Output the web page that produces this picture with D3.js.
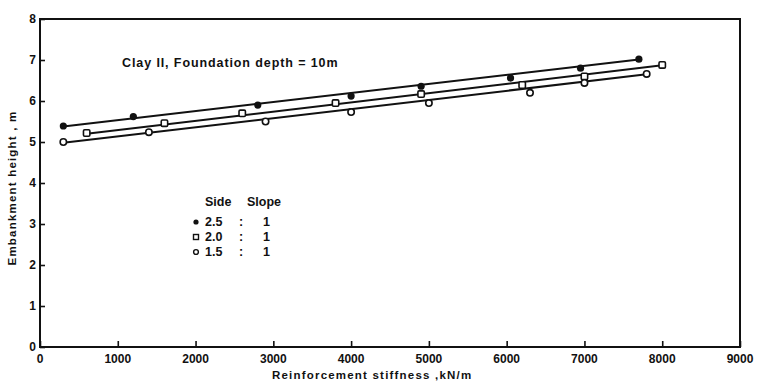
<!DOCTYPE html>
<html>
<head>
<meta charset="utf-8">
<script src="https://cdn.jsdelivr.net/npm/d3@7"></script>
<style>
  body { margin: 0; background: #fff; }
  svg { display: block; }
  text { font-family: "Liberation Sans", Arial, sans-serif; fill: #111; }
  .tick-label { font-size: 12px; font-weight: bold; }
  .axis-title { font-size: 11.5px; font-weight: bold; letter-spacing: 1.2px; }
  .note { font-size: 12.5px; font-weight: bold; }
  .title { letter-spacing: 0.9px; }
</style>
</head>
<body>
<svg id="chart" width="757" height="384"></svg>
<script>
  // values (x in kN/m, y in m)
  const xTicks = [0, 1000, 2000, 3000, 4000, 5000, 6000, 7000, 8000, 9000];
  const yTicks = [0, 1, 2, 3, 4, 5, 6, 7, 8];

  const slope25X = [300, 1200, 2800, 4000, 4900, 6050, 6950, 7700];
  const slope25Y = [5.39, 5.62, 5.9, 6.12, 6.36, 6.56, 6.8, 7.02];
  const slope20X = [600, 1600, 2600, 3800, 4900, 6200, 7000, 8000];
  const slope20Y = [5.22, 5.46, 5.7, 5.95, 6.17, 6.39, 6.6, 6.88];
  const slope15X = [300, 1400, 2900, 4000, 5000, 6300, 7000, 7800];
  const slope15Y = [5.0, 5.24, 5.5, 5.73, 5.95, 6.2, 6.44, 6.66];

  // fitted straight lines, start and end as drawn
  const fit25 = [[300, 5.38], [7700, 7.01]];
  const fit20 = [[600, 5.2], [8000, 6.87]];
  const fit15 = [[300, 4.98], [7800, 6.65]];

  const legendSides = ["2.5", "2.0", "1.5"];
  const legendSlopes = ["1", "1", "1"];

  const svg = d3.select("#chart");
  const x = d3.scaleLinear().domain([0, 9000]).range([40, 740]);
  const y = d3.scaleLinear().domain([0, 8]).range([347, 19]);

  // frame
  svg.append("rect")
    .attr("x", x(0)).attr("y", y(8))
    .attr("width", x(9000) - x(0)).attr("height", y(0) - y(8))
    .attr("fill", "none").attr("stroke", "#111").attr("stroke-width", 2);

  // inside ticks
  const xAxis = svg.append("g").attr("transform", `translate(0,${y(0)})`)
    .call(d3.axisTop(x).tickValues(xTicks).tickSize(6).tickFormat(""));
  const yAxis = svg.append("g").attr("transform", `translate(${x(0)},0)`)
    .call(d3.axisRight(y).tickValues(yTicks).tickSize(5).tickFormat(""));
  [xAxis, yAxis].forEach(g => {
    g.select(".domain").remove();
    g.selectAll("line").attr("stroke", "#111").attr("stroke-width", 1.6);
  });

  svg.selectAll(".xlab").data(xTicks).join("text")
    .attr("class", "tick-label")
    .attr("x", d => x(d)).attr("y", 363)
    .attr("text-anchor", "middle")
    .text(d => d);
  svg.selectAll(".ylab").data(yTicks).join("text")
    .attr("class", "tick-label")
    .attr("x", 36).attr("y", d => y(d) + 4)
    .attr("text-anchor", "end")
    .text(d => d);

  svg.append("text").attr("class", "axis-title")
    .attr("x", 272).attr("y", 379)
    .text("Reinforcement  stiffness ,kN/m");
  svg.append("text").attr("class", "axis-title")
    .attr("transform", "translate(16,188) rotate(-90)")
    .attr("text-anchor", "middle")
    .text("Embankment  height , m");

  svg.append("text").attr("class", "note title")
    .attr("x", 122).attr("y", 67)
    .text("Clay II, Foundation depth = 10m");

  // fitted lines
  const line = d3.line().x(d => x(d[0])).y(d => y(d[1]));
  [fit25, fit20, fit15].forEach(f => {
    svg.append("path").datum(f).attr("d", line)
      .attr("fill", "none").attr("stroke", "#111").attr("stroke-width", 2);
  });

  // markers
  const zipPts = (xs, ys) => xs.map((v, i) => [v, ys[i]]);
  svg.selectAll(".p25").data(zipPts(slope25X, slope25Y)).join("circle")
    .attr("cx", d => x(d[0])).attr("cy", d => y(d[1])).attr("r", 3.6)
    .attr("fill", "#111");
  svg.selectAll(".p20").data(zipPts(slope20X, slope20Y)).join("rect")
    .attr("x", d => x(d[0]) - 3.2).attr("y", d => y(d[1]) - 3.2)
    .attr("width", 6.4).attr("height", 6.4).attr("rx", 1.2)
    .attr("fill", "#fff").attr("stroke", "#111").attr("stroke-width", 1.6);
  svg.selectAll(".p15").data(zipPts(slope15X, slope15Y)).join("circle")
    .attr("cx", d => x(d[0])).attr("cy", d => y(d[1])).attr("r", 3.2)
    .attr("fill", "#fff").attr("stroke", "#111").attr("stroke-width", 1.6);

  // legend
  const lg = svg.append("g");
  lg.append("text").attr("class", "note").attr("x", 205).attr("y", 206).text("Side");
  lg.append("text").attr("class", "note").attr("x", 247).attr("y", 206).text("Slope");
  legendSides.forEach((s, i) => {
    const ly = 222 + i * 15;
    if (i === 0) lg.append("circle").attr("cx", 196).attr("cy", ly).attr("r", 2.6).attr("fill", "#111");
    if (i === 1) lg.append("rect").attr("x", 193.5).attr("y", ly - 2.5).attr("width", 5).attr("height", 5)
      .attr("fill", "#fff").attr("stroke", "#111").attr("stroke-width", 1.4);
    if (i === 2) lg.append("circle").attr("cx", 196).attr("cy", ly).attr("r", 2.4)
      .attr("fill", "#fff").attr("stroke", "#111").attr("stroke-width", 1.4);
    lg.append("text").attr("class", "note").attr("x", 205).attr("y", ly + 4).text(s);
    lg.append("text").attr("class", "note").attr("x", 239).attr("y", ly + 4).text(":");
    lg.append("text").attr("class", "note").attr("x", 263).attr("y", ly + 4).text(legendSlopes[i]);
  });
</script>
</body>
</html>
